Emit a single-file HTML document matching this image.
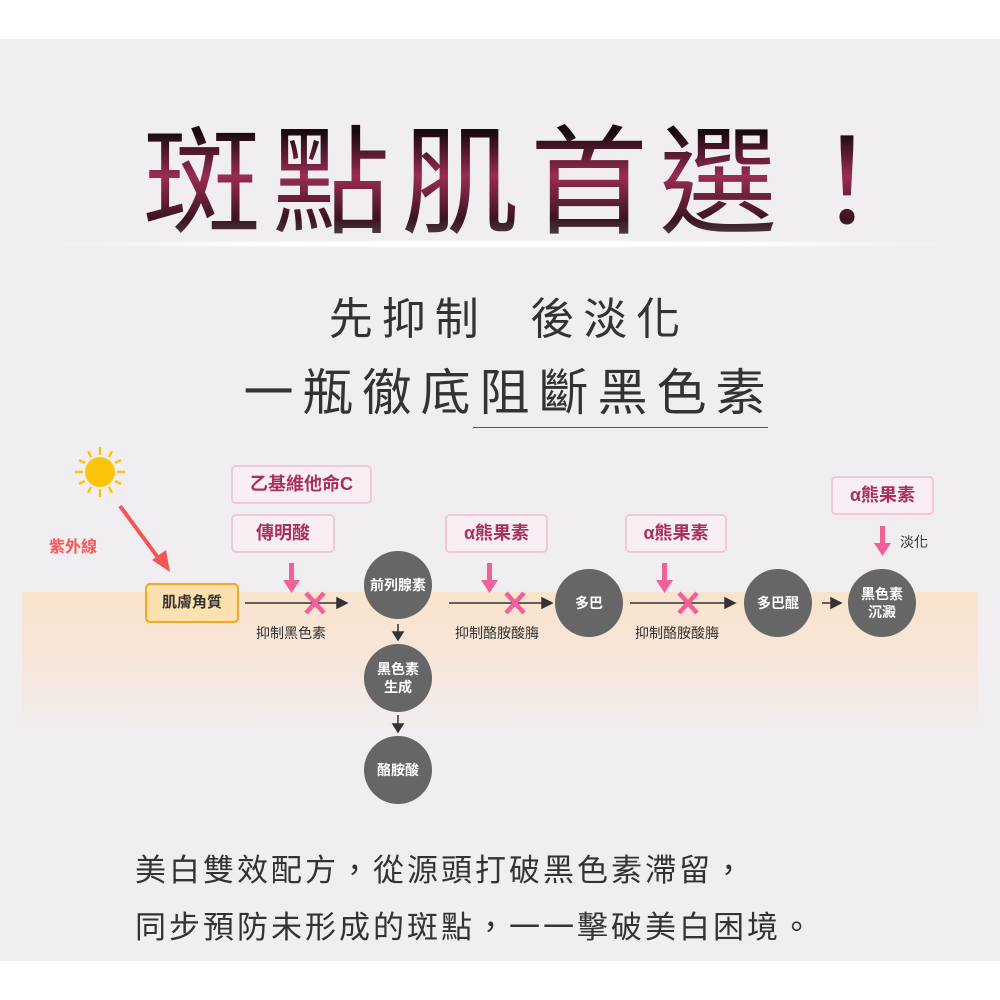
<!DOCTYPE html>
<html><head><meta charset="utf-8"><style>
body{margin:0;width:1000px;height:1000px;background:#fff;position:relative;overflow:hidden;font-family:"Liberation Sans","Noto Sans CJK TC",sans-serif}
.bg{position:absolute;left:0;top:39px;width:1000px;height:922px;background:#f0eef1}
.band{position:absolute;left:22px;top:592px;width:956px;height:140px;background:linear-gradient(#f8e3cc,#f7e6da 50%,#f0eef1)}
.a{position:absolute;white-space:nowrap}
.title{left:143px;top:104px;font-size:118px;font-weight:normal;letter-spacing:11px;line-height:160px;background:linear-gradient(#1a0a10 18%,#9a2c52 45%,#3a1420 72%,#555 88%);-webkit-background-clip:text;background-clip:text;color:transparent}
.glow{position:absolute;left:60px;top:240px;width:880px;height:8px;background:radial-gradient(ellipse at center,#fff 40%,rgba(255,255,255,0) 75%)}
.sub{font-size:44px;color:#333;letter-spacing:4px;left:0;width:1000px;text-align:center}
.pk{position:absolute;background:#f9eef3;border:2px solid #f2c8d8;border-radius:5px;color:#a8305a;font-weight:bold;font-size:18px;text-align:center;box-sizing:border-box;line-height:35px}
.c{position:absolute;width:68px;height:68px;border-radius:50%;background:#666;color:#fff;font-weight:bold;font-size:14px;display:flex;align-items:center;justify-content:center;text-align:center;line-height:18px}
.lb{position:absolute;font-size:14px;color:#333;white-space:nowrap;transform:translateX(-50%)}
.bt{font-size:31px;color:#333;letter-spacing:3px;left:135px}
</style></head><body>
<div class="bg"></div>
<div class="band"></div>
<div class="a title">斑點肌首選！</div>
<div class="glow"></div>
<div class="a sub" style="top:292px;line-height:56px;letter-spacing:9px;padding-left:9px">先抑制&nbsp;&nbsp;後淡化</div>
<div class="a sub" style="top:362px;line-height:62px;font-size:50px;letter-spacing:9px;padding-left:9px">一瓶徹底阻斷黑色素</div>
<div style="position:absolute;left:473px;top:427px;width:295px;height:1px;background:#555"></div>

<svg style="position:absolute;left:0;top:0" width="1000" height="1000">
<g stroke="#fbc30a" stroke-width="2.5">
<line x1="100" y1="447" x2="100" y2="455"/><line x1="100" y1="489" x2="100" y2="497"/>
<line x1="75" y1="472" x2="83" y2="472"/><line x1="117" y1="472" x2="125" y2="472"/>
<line x1="88" y1="451" x2="91" y2="457"/><line x1="112" y1="451" x2="109" y2="457"/>
<line x1="88" y1="493" x2="91" y2="487"/><line x1="112" y1="493" x2="109" y2="487"/>
<line x1="79" y1="460" x2="85" y2="463"/><line x1="121" y1="460" x2="115" y2="463"/>
<line x1="79" y1="484" x2="85" y2="481"/><line x1="121" y1="484" x2="115" y2="481"/>
</g>
<circle cx="100" cy="472" r="15" fill="#fdc50a"/>
<line x1="120" y1="506" x2="162" y2="563" stroke="#f25757" stroke-width="4"/>
<polygon points="170,572 152,560 166,550" fill="#f25757"/>
<g stroke="#333" stroke-width="1.5" fill="#333">
<line x1="245" y1="603" x2="340" y2="603"/><polygon points="347,603 337,598 337,608"/>
<line x1="449" y1="603" x2="545" y2="603"/><polygon points="552,603 542,598 542,608"/>
<line x1="630" y1="603" x2="728" y2="603"/><polygon points="735,603 725,598 725,608"/>
<line x1="822" y1="603" x2="834" y2="603"/><polygon points="841,603 831,598 831,608"/>
<line x1="398" y1="624" x2="398" y2="634"/><polygon points="398,640 393,632 403,632"/>
<line x1="398" y1="715" x2="398" y2="726"/><polygon points="398,732 393,724 403,724"/>
</g>
<g fill="#f0609a">
<rect x="289" y="563" width="5" height="20"/><polygon points="283,580 300,580 291.5,593"/>
<rect x="487" y="563" width="5" height="20"/><polygon points="481,580 498,580 489.5,593"/>
<rect x="662" y="563" width="5" height="20"/><polygon points="656,580 673,580 664.5,593"/>
<rect x="880" y="526" width="5" height="20"/><polygon points="874,543 891,543 882.5,556"/>
</g>
<g stroke="#f0609a" stroke-width="4.5">
<line x1="306" y1="593" x2="324" y2="613"/><line x1="324" y1="593" x2="306" y2="613"/>
<line x1="506" y1="593" x2="524" y2="613"/><line x1="524" y1="593" x2="506" y2="613"/>
<line x1="679" y1="593" x2="697" y2="613"/><line x1="697" y1="593" x2="679" y2="613"/>
</g>
</svg>

<div class="a" style="left:49px;top:533px;font-size:16px;font-weight:bold;color:#f25a5a">紫外線</div>
<div class="a" style="left:145px;top:583px;width:94px;height:40px;box-sizing:border-box;border:2px solid #f5a623;border-radius:5px;background:#fde0b0;color:#333;font-weight:bold;font-size:15px;text-align:center;line-height:36px">肌膚角質</div>

<div class="pk" style="left:231px;top:465px;width:141px;height:39px">乙基維他命C</div>
<div class="pk" style="left:231px;top:514px;width:104px;height:39px">傳明酸</div>
<div class="pk" style="left:445px;top:514px;width:103px;height:39px">α熊果素</div>
<div class="pk" style="left:625px;top:514px;width:102px;height:39px">α熊果素</div>
<div class="pk" style="left:831px;top:476px;width:103px;height:39px">α熊果素</div>
<div class="a" style="left:900px;top:532px;font-size:14px;color:#333">淡化</div>

<div class="c" style="left:364px;top:551px">前列腺素</div>
<div class="c" style="left:364px;top:644px">黑色素<br>生成</div>
<div class="c" style="left:364px;top:736px">酪胺酸</div>
<div class="c" style="left:555px;top:569px">多巴</div>
<div class="c" style="left:744px;top:569px">多巴醌</div>
<div class="c" style="left:848px;top:569px">黑色素<br>沉澱</div>

<div class="lb" style="left:291px;top:623px">抑制黑色素</div>
<div class="lb" style="left:497px;top:623px">抑制酪胺酸脢</div>
<div class="lb" style="left:677px;top:623px">抑制酪胺酸脢</div>

<div class="a bt" style="top:845px">美白雙效配方，從源頭打破黑色素滯留，</div>
<div class="a bt" style="top:902px">同步預防未形成的斑點，一一擊破美白困境。</div>
</body></html>
